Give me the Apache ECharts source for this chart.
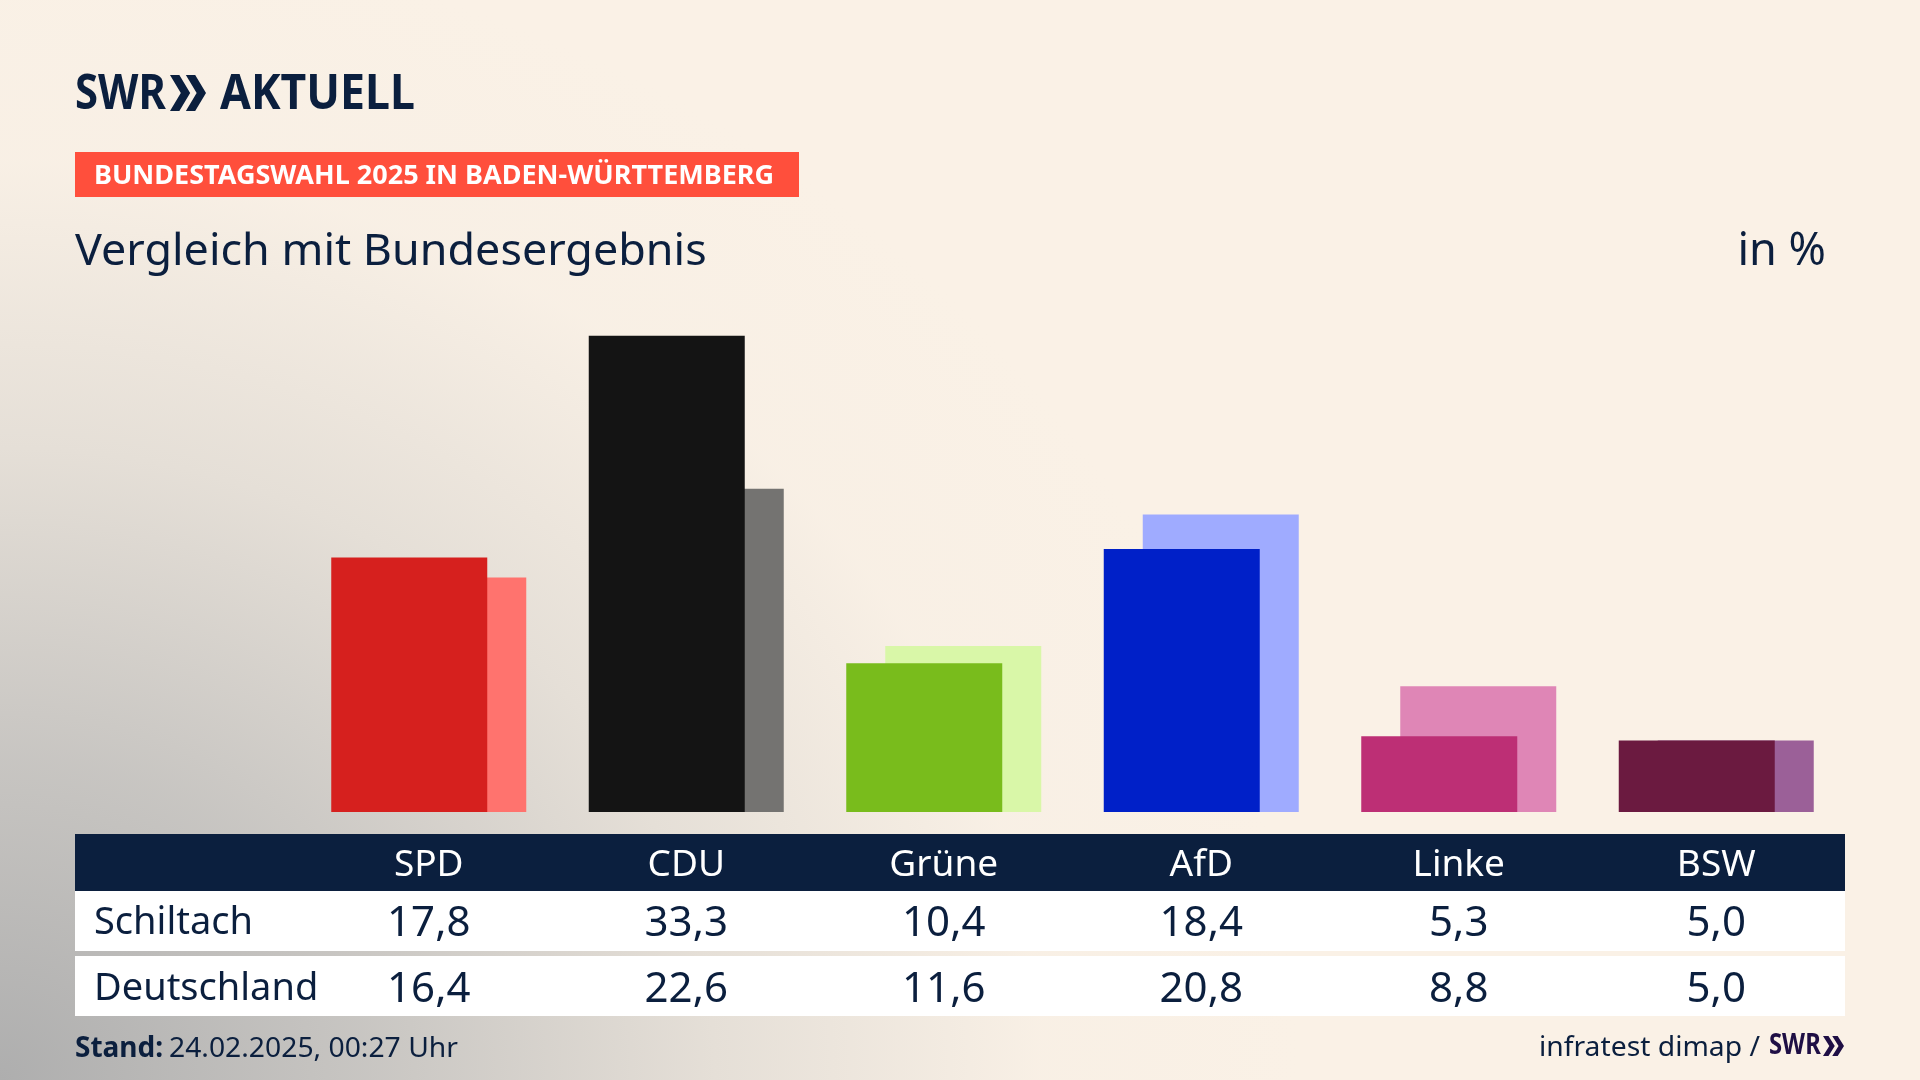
<!DOCTYPE html>
<html>
<head>
<meta charset="UTF-8">
<title>Vergleich mit Bundesergebnis</title>
<style type="text/css">
	* {margin: 0; padding: 0;}
	html, body {width: 1920px; height: 1080px; overflow: hidden;}
	body {
		background-color: #faf1e6;
		background-image:
			radial-gradient(ellipse 1300px 1150px at 0 1080px, rgba(174,174,174,1) 0%, rgba(197,195,192,0.95) 28%, rgba(222,217,210,0.75) 55%, rgba(245,237,227,0.35) 80%, rgba(250,241,230,0) 100%);
	}
	#chart {width: 1920px; height: 1080px;}
</style>
</head>
<body>
<div id="chart"></div>
<script src="https://cdn.jsdelivr.net/npm/echarts@6/dist/echarts.min.js"></script>
<script type="text/javascript">
var parties = ['SPD', 'CDU', 'Grüne', 'AfD', 'Linke', 'BSW'];
var schiltach = [17.8, 33.3, 10.4, 18.4, 5.3, 5.0];
var deutschland = [16.4, 22.6, 11.6, 20.8, 8.8, 5.0];
var frontColors = ['#d6201e', '#141414', '#79bc1c', '#0020c8', '#bd2f75', '#6b1a40'];
var backColors = ['#ff736e', '#747371', '#d9f7a8', '#9fabff', '#df86b6', '#9b6098'];

var navy = '#0b1f3e';
var font = '"Noto Sans", sans-serif';

function comma(v) {
	return v.toFixed(1).replace('.', ',');
}

function coloured(values, colors) {
	return values.map(function (v, i) {
		return {value: v, itemStyle: {color: colors[i]}};
	});
}

// table rows are extra category axes under the bars, so they line up with the columns
function rowAxis(labels, offset, color, size) {
	return {
		type: 'category',
		position: 'bottom',
		offset: offset,
		data: labels,
		z: 5,
		axisLine: {show: false},
		axisTick: {show: false},
		axisLabel: {
			interval: 0,
			margin: 0,
			color: color,
			fontFamily: font,
			fontSize: size,
			verticalAlign: 'middle'
		}
	};
}

function box(x, y, w, h, color) {
	return {type: 'rect', z: 1, shape: {x: x, y: y, width: w, height: h}, style: {fill: color}};
}

function label(text, x, y, size, weight, color, align, scaleX) {
	return {
		type: 'text', z: 5, x: x, y: y, scaleX: scaleX || 1,
		style: {
			text: text, fill: color, align: align || 'left', verticalAlign: 'middle',
			font: weight + ' ' + size + 'px ' + font
		}
	};
}

function chevrons(x, y, w, h, color) {
	// the two arrows of the SWR logo
	var t = w * 0.56, s = w * 0.26;
	return [0, 1].map(function (k) {
		var o = x + k * (w - t);
		return {
			type: 'polygon', z: 5,
			shape: {points: [[o, y], [o + s, y], [o + t, y + h / 2], [o + s, y + h], [o, y + h], [o + t - s, y + h / 2]]},
			style: {fill: color}
		};
	});
}

var graphics = [
	box(75, 152, 724, 45, '#ff4f3c'),
	box(75, 834, 1770, 57, navy),
	box(75, 891, 1770, 60, '#ffffff'),
	box(75, 956, 1770, 60, '#ffffff'),
	label('SWR', 75, 95, 48, 700, navy, 'left', 0.87),
	label('AKTUELL', 220, 95, 48, 700, navy, 'left', 0.93),
	label('BUNDESTAGSWAHL 2025 IN BADEN-WÜRTTEMBERG', 94, 176, 27, 700, '#ffffff', 'left', 1.0),
	label('Vergleich mit Bundesergebnis', 75, 252, 44, 400, navy, 'left', 1.02),
	label('in %', 1826, 252, 45, 400, navy, 'right', 1),
	label('Schiltach', 94, 923, 38, 400, navy),
	label('Deutschland', 94, 989, 38, 400, navy),
	label('Stand:', 75, 1049, 28, 700, navy),
	label('24.02.2025, 00:27 Uhr', 169, 1049, 28, 400, navy, 'left', 1.01),
	label('infratest dimap /', 1760, 1048, 28, 400, navy, 'right', 1.01),
	label('SWR', 1769, 1046, 28, 700, '#1f0f45', 'left', 0.85)
].concat(chevrons(170, 75, 36, 36, navy), chevrons(1823, 1036, 21, 20, '#1f0f45'));

var chart = echarts.init(document.getElementById('chart'));

chart.setOption({
	animation: false,
	backgroundColor: 'transparent',
	graphic: graphics,
	grid: {left: 300, top: 311.5, width: 1545, height: 500.5},
	yAxis: {type: 'value', min: 0, max: 35, show: false},
	xAxis: [
		rowAxis(parties, 53, '#ffffff', 37),
		rowAxis(schiltach.map(comma), 112, navy, 42),
		rowAxis(deutschland.map(comma), 178, navy, 42)
	],
	series: [
		{
			name: 'Schiltach', type: 'bar', z: 3, barWidth: 156, barGap: '-75%',
			silent: true, data: coloured(schiltach, frontColors)
		},
		{
			name: 'Deutschland', type: 'bar', z: 2, barWidth: 156,
			silent: true, data: coloured(deutschland, backColors)
		}
	]
});
</script>
</body>
</html>
